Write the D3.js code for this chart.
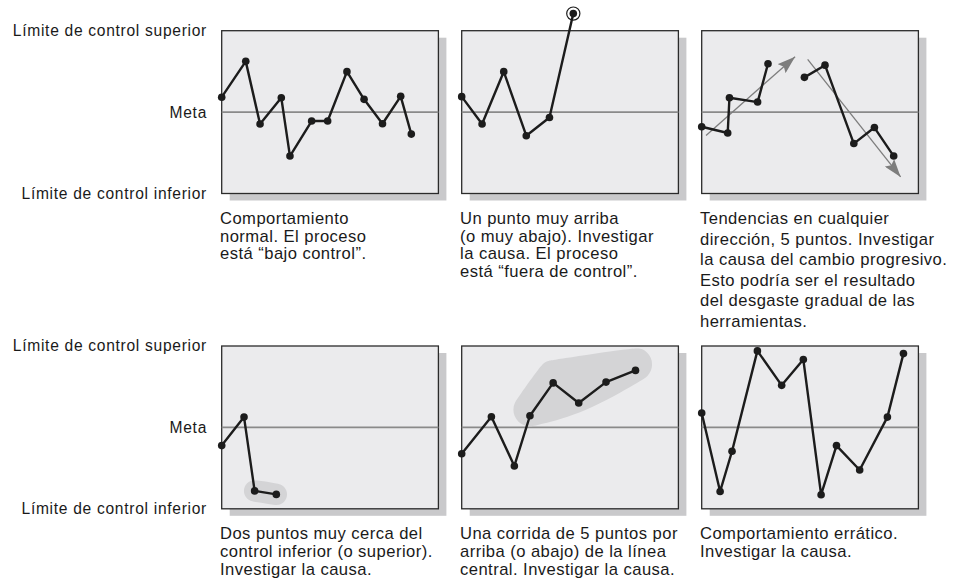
<!DOCTYPE html>
<html>
<head>
<meta charset="utf-8">
<script src="https://cdn.jsdelivr.net/npm/d3@7"></script>
<style>
  body { margin: 0; background: #fff; }
  text { font-family: "Liberation Sans", Arial, Helvetica, sans-serif; fill: #1a1a1a; }
</style>
</head>
<body>
<div id="chart"></div>
<script>
// etiquetas del eje (límites y meta), en unidades de sigma
const limitLabels = ["Límite de control superior", "Meta", "Límite de control inferior"];
const limitValues = [3, 0, -3];

// x = instante de la muestra (0-100), y = desviación respecto a la meta
const normalX = [0, 11.1, 17.7, 27.5, 31.5, 41.5, 48.9, 57.8, 65.7, 74.2, 82.6, 87.5];
const normalY = [0.55, 1.87, -0.44, 0.53, -1.62, -0.33, -0.33, 1.49, 0.47, -0.43, 0.58, -0.81];

const outlierX = [0, 9.4, 19.4, 29.8, 40.5, 51.5];
const outlierY = [0.57, -0.44, 1.49, -0.87, -0.2, 3.63];
const outlierMarked = [5];

const trendUpX = [0, 12, 12.8, 25.8, 30.6];
const trendUpY = [-0.54, -0.77, 0.53, 0.37, 1.78];
const trendDownX = [47.4, 56.9, 70.2, 79.7, 88.6];
const trendDownY = [1.28, 1.73, -1.16, -0.57, -1.62];
const trendArrows = [[[2, -0.86], [43.1, 2.04]], [[48.9, 1.94], [91.8, -2.39]]];

const nearLimitX = [0, 10.3, 15.2, 25.2];
const nearLimitY = [-0.67, 0.38, -2.34, -2.47];
const nearLimitMarked = [2, 3];

const runX = [0, 13.7, 24.3, 31.5, 42.2, 54, 66.6, 80.2];
const runY = [-0.97, 0.39, -1.42, 0.43, 1.64, 0.9, 1.67, 2.1];
const runMarked = [3, 4, 5, 6, 7];

const erraticX = [0, 8.5, 14, 25.7, 36.9, 46.9, 55.1, 62.2, 72.9, 85.7, 93.1];
const erraticY = [0.53, -2.36, -0.88, 2.82, 1.55, 2.5, -2.48, -0.67, -1.57, 0.38, 2.72];

const captions = [
    ["Comportamiento", "normal. El proceso", "está “bajo control”."],
    ["Un punto muy arriba", "(o muy abajo). Investigar", "la causa. El proceso", "está “fuera de control”."],
    ["Tendencias en cualquier", "dirección, 5 puntos. Investigar", "la causa del cambio progresivo.",
     "Esto podría ser el resultado", "del desgaste gradual de las", "herramientas."],
    ["Dos puntos muy cerca del", "control inferior (o superior).", "Investigar la causa."],
    ["Una corrida de 5 puntos por", "arriba (o abajo) de la línea", "central. Investigar la causa."],
    ["Comportamiento errático.", "Investigar la causa."]
];

const zip = (xs, ys) => xs.map((x, i) => [x, ys[i]]);

const panels = [
    {series: [zip(normalX, normalY)]},
    {series: [zip(outlierX, outlierY)], ring: outlierMarked},
    {series: [zip(trendUpX, trendUpY), zip(trendDownX, trendDownY)], arrows: trendArrows, lineHeight: 20.6},
    {series: [zip(nearLimitX, nearLimitY)], blob: nearLimitMarked, blobR: 11, blobDy: 0},
    {series: [zip(runX, runY)], blob: runMarked, blobR: 17, blobDy: -6},
    {series: [zip(erraticX, erraticY)]}
];

const W = 956, H = 585;
const boxW = 216.7, boxH = 162.8;
const colX = [221.7, 461.7, 701.7];
const rowY = [30.7, 346];

const svg = d3.select("#chart").append("svg")
    .attr("width", W)
    .attr("height", H)
    .attr("viewBox", `0 0 ${W} ${H}`);

const defs = svg.append("defs");
defs.append("marker")
    .attr("id", "arrowhead")
    .attr("markerUnits", "userSpaceOnUse")
    .attr("markerWidth", 19)
    .attr("markerHeight", 12)
    .attr("refX", 18)
    .attr("refY", 6)
    .attr("orient", "auto")
  .append("path")
    .attr("d", "M0,0 L18,6 L0,12 L3,6 Z")
    .attr("fill", "#7d7d7d");

const x = d3.scaleLinear().domain([0, 100]).range([0, boxW]);
const y = d3.scaleLinear().domain([-3, 3]).range([boxH, 0]);
const line = d3.line().x(d => x(d[0])).y(d => y(d[1]));

// etiquetas de la izquierda en cada fila
rowY.forEach(top => {
    svg.append("g")
        .attr("transform", `translate(207,${top})`)
      .selectAll("text")
      .data(limitLabels)
      .enter().append("text")
        .attr("y", (d, i) => y(limitValues[i]))
        .attr("dy", "0.35em")
        .attr("text-anchor", "end")
        .attr("font-size", 15.6)
        .attr("letter-spacing", 0.7)
        .text(d => d);
});

panels.forEach((p, i) => {
    const g = svg.append("g")
        .attr("transform", `translate(${colX[i % 3]},${rowY[Math.floor(i / 3)]})`);

    // sombra y marco
    g.append("rect")
        .attr("x", 8).attr("y", 7)
        .attr("width", boxW).attr("height", boxH)
        .attr("fill", "#c9c9cb");
    g.append("rect")
        .attr("width", boxW).attr("height", boxH)
        .attr("fill", "#ebebed")
        .attr("stroke", "#2b2b2b")
        .attr("stroke-width", 1.3);

    // línea central (meta)
    g.append("line")
        .attr("x1", 0).attr("x2", boxW)
        .attr("y1", y(0)).attr("y2", y(0))
        .attr("stroke", "#8a8a8a")
        .attr("stroke-width", 1.6);

    // zona resaltada alrededor de los puntos señalados
    if (p.blob) {
        const pts = p.blob.map(k => p.series[0][k]);
        const ring = [];
        pts.forEach(d => {
            d3.range(16).forEach(j => {
                const a = j / 16 * 2 * Math.PI;
                ring.push([x(d[0]) + p.blobR * Math.cos(a), y(d[1]) + p.blobDy + p.blobR * Math.sin(a)]);
            });
        });
        const hull = d3.polygonHull(ring);
        g.append("path")
            .attr("d", d3.line().curve(d3.curveBasisClosed)(hull))
            .attr("fill", "#d4d4d6");
    }

    if (p.arrows) {
        g.selectAll(".arrow")
            .data(p.arrows)
            .enter().append("path")
            .attr("class", "arrow")
            .attr("d", line)
            .attr("fill", "none")
            .attr("stroke", "#7d7d7d")
            .attr("stroke-width", 1.3)
            .attr("marker-end", "url(#arrowhead)");
    }

    p.series.forEach(s => {
        g.append("path")
            .attr("d", line(s))
            .attr("fill", "none")
            .attr("stroke", "#1c1c1c")
            .attr("stroke-width", 2.4)
            .attr("stroke-linejoin", "round");
        g.selectAll(null)
            .data(s)
            .enter().append("circle")
            .attr("cx", d => x(d[0]))
            .attr("cy", d => y(d[1]))
            .attr("r", 3.8)
            .attr("fill", "#1c1c1c");
    });

    if (p.ring) {
        g.selectAll(null)
            .data(p.ring.map(k => p.series[0][k]))
            .enter().append("circle")
            .attr("cx", d => x(d[0]))
            .attr("cy", d => y(d[1]))
            .attr("r", 6.6)
            .attr("fill", "none")
            .attr("stroke", "#1c1c1c")
            .attr("stroke-width", 1.2);
    }

    // texto explicativo
    const lh = p.lineHeight || 17.6;
    g.append("text")
        .attr("x", -1.7)
        .attr("y", boxH + 30.5)
        .attr("font-size", 16.6)
        .attr("letter-spacing", 0.45)
      .selectAll("tspan")
      .data(captions[i])
      .enter().append("tspan")
        .attr("x", -1.7)
        .attr("dy", (d, j) => j === 0 ? 0 : lh)
        .text(d => d);
});
</script>
</body>
</html>
